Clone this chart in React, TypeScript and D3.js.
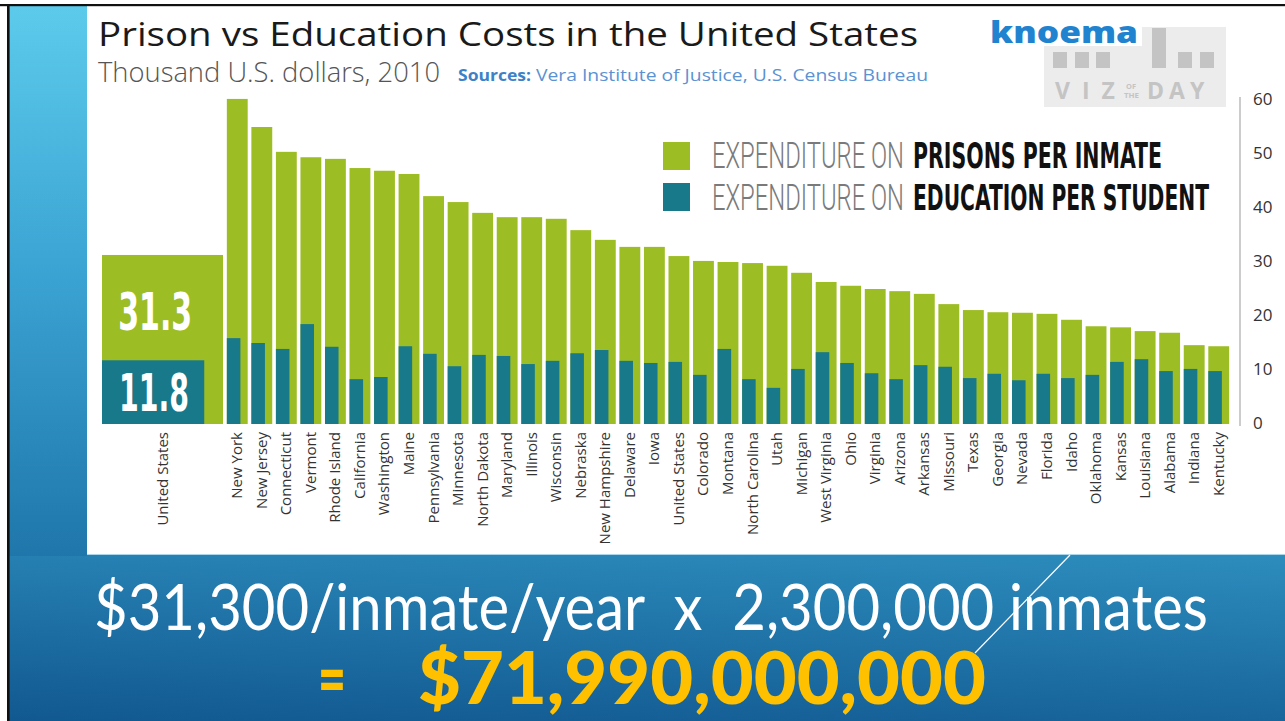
import React from 'react';
import * as d3 from 'd3';

const states = ['New York','New Jersey','Connecticut','Vermont','Rhode Island','California','Washington','Maine','Pennsylvania','Minnesota','North Dakota','Maryland','Illinois','Wisconsin','Nebraska','New Hampshire','Delaware','Iowa','United States','Colorado','Montana','North Carolina','Utah','Michigan','West Virginia','Ohio','Virginia','Arizona','Arkansas','Missouri','Texas','Georgia','Nevada','Florida','Idaho','Oklahoma','Kansas','Louisiana','Alabama','Indiana','Kentucky'];

const prisonCost = [60.2,55.0,50.4,49.4,49.1,47.4,46.9,46.3,42.2,41.1,39.1,38.3,38.3,38.0,35.9,34.1,32.8,32.8,31.1,30.2,30.0,29.8,29.3,28.0,26.3,25.6,25.0,24.6,24.1,22.2,21.1,20.7,20.6,20.4,19.3,18.1,17.9,17.2,16.9,14.6,14.4];

const educationCost = [15.9,15.0,13.9,18.5,14.3,8.3,8.7,14.4,13.0,10.7,12.8,12.6,11.1,11.7,13.1,13.7,11.7,11.3,11.5,9.1,13.9,8.3,6.7,10.2,13.3,11.3,9.4,8.3,10.9,10.6,8.5,9.3,8.1,9.3,8.5,9.1,11.5,12.0,9.8,10.2,9.8];

const usCategory = ['United States'];
const usPrison = [31.3];
const usEducation = [11.8];

const yTicks = [0, 10, 20, 30, 40, 50, 60];

const GREEN = '#9dbd25';
const TEAL = '#18798a';

export default function App() {
  const W = 1285, H = 721;
  const y = d3.scaleLinear().domain([0, 60]).range([424, 100]);
  const x = d3.scaleBand<string>().domain(states).range([225, 1231]).paddingInner(0.15).paddingOuter(0.075);
  const xUS = d3.scaleBand<string>().domain(usCategory).range([102, 223]).padding(0);
  const bw = x.bandwidth();
  const tealW = bw * 0.65;
  const usBw = xUS.bandwidth();

  const labelFont = '"Open Sans", "Noto Sans", sans-serif';
  const condFont = '"DejaVu Sans Condensed", "Liberation Sans Narrow", Roboto, sans-serif';
  const logoGray = '#c4c4c4';

  return (
    <svg width={W} height={H} viewBox={`0 0 ${W} ${H}`} style={{ position: 'absolute', left: 0, top: 0, display: 'block' }}>
      <defs>
        <linearGradient id="strip" x1="0" y1="0" x2="0" y2="1">
          <stop offset="0" stopColor="#5ccbeb" />
          <stop offset="0.5" stopColor="#3aa2d2" />
          <stop offset="1" stopColor="#1f76aa" />
        </linearGradient>
        <linearGradient id="bottom" x1="0.7" y1="-0.1" x2="0.3" y2="1.1">
          <stop offset="0" stopColor="#2d8dbd" />
          <stop offset="1" stopColor="#115890" />
        </linearGradient>
      </defs>
      <rect x={0} y={0} width={W} height={H} fill="#ffffff" />
      {/* slide background */}
      <rect x={9} y={554} width={W - 9} height={H - 554} fill="url(#bottom)" />
      <rect x={9} y={5} width={78} height={551} fill="url(#strip)" />
      <rect x={87} y={6} width={W - 87} height={548} fill="#ffffff" />
      <line x1={87} x2={W} y1={554.5} y2={554.5} stroke="#a9d6ea" strokeWidth={1.2} />
      <rect x={0} y={4} width={W} height={2.2} fill="#111" />
      <rect x={7} y={4} width={2.6} height={H - 4} fill="#111" />

      {/* title */}
      <text x={98} y={46} fontFamily={labelFont} fontSize={32} fill="#1a1a1a" textLength={820} lengthAdjust="spacingAndGlyphs">Prison vs Education Costs in the United States</text>
      <text x={98} y={82} fontFamily={labelFont} fontWeight={300} fontSize={27} fill="#555" textLength={342} lengthAdjust="spacingAndGlyphs">Thousand U.S. dollars, 2010</text>
      <text x={458} y={81} fontFamily={labelFont} fontWeight={700} fontSize={16} fill="#3b82c8" textLength={73} lengthAdjust="spacingAndGlyphs">Sources:</text>
      <text x={536} y={81} fontFamily={labelFont} fontSize={16} fill="#5a92d2" textLength={392} lengthAdjust="spacingAndGlyphs">Vera Institute of Justice, U.S. Census Bureau</text>

      {/* knoema logo */}
      <rect x={1044} y={27} width={182} height={80} fill="#ececec" />
      <rect x={1040} y={18} width={102} height={28} fill="#ffffff" />
      {[1053, 1075, 1096, 1178, 1200].map((bx, i) => (
        <rect key={i} x={bx} y={52} width={14} height={16} fill={logoGray} />
      ))}
      <rect x={1152} y={28} width={14} height={40} fill={logoGray} />
      <text x={990} y={43} fontFamily={labelFont} fontWeight={800} fontSize={30} fill="#1f83cf" textLength={148} lengthAdjust="spacingAndGlyphs">knoema</text>
      <text x={1055} y={99} fontFamily={labelFont} fontWeight={700} fontSize={23} fill={logoGray} letterSpacing={12}>VIZ</text>
      <text x={1126} y={89} fontFamily={labelFont} fontWeight={700} fontSize={7} fill={logoGray} textLength={10} lengthAdjust="spacingAndGlyphs">OF</text>
      <text x={1124} y={98} fontFamily={labelFont} fontWeight={700} fontSize={7} fill={logoGray} textLength={15} lengthAdjust="spacingAndGlyphs">THE</text>
      <text x={1147} y={99} fontFamily={labelFont} fontWeight={700} fontSize={23} fill={logoGray} letterSpacing={5}>DAY</text>

      {/* y axis */}
      <line x1={1240} x2={1240} y1={y(60) - 3} y2={y(0) + 2} stroke="#aaaaaa" strokeWidth={1.2} />
      {yTicks.map(t => (
        <text key={t} x={1253} y={y(t) + 5} fontFamily={labelFont} fontSize={17} fill="#333">{t}</text>
      ))}

      {/* US summary bar */}
      {usCategory.map((c, i) => (
        <g key={c}>
          <rect x={xUS(c)} y={y(usPrison[i])} width={usBw} height={y(0) - y(usPrison[i])} fill={GREEN} />
          <rect x={xUS(c)} y={y(usEducation[i])} width={usBw * 0.845} height={y(0) - y(usEducation[i])} fill={TEAL} />
          <text x={(xUS(c) as number) + usBw * 0.44} y={y(usPrison[i]) + 75} textAnchor="middle" fontFamily={condFont} fontWeight={700} fontSize={51} fill="#fff" textLength={74} lengthAdjust="spacingAndGlyphs">{usPrison[i].toFixed(1)}</text>
          <text x={(xUS(c) as number) + usBw * 0.43} y={y(0) - 13} textAnchor="middle" fontFamily={condFont} fontWeight={700} fontSize={51} fill="#fff" textLength={70} lengthAdjust="spacingAndGlyphs">{usEducation[i].toFixed(1)}</text>
          <text transform={`translate(${(xUS(c) as number) + usBw / 2 + 5},432) rotate(-90)`} textAnchor="end" fontFamily={labelFont} fontSize={15} fill="#333">{c}</text>
        </g>
      ))}

      {/* state bars */}
      {states.map((s, i) => (
        <g key={s + i}>
          <rect x={x(s)} y={y(prisonCost[i])} width={bw} height={y(0) - y(prisonCost[i])} fill={GREEN} />
          <rect x={x(s)} y={y(educationCost[i])} width={tealW} height={y(0) - y(educationCost[i])} fill={TEAL} />
          <text transform={`translate(${(x(s) as number) + bw / 2 + 5},432) rotate(-90)`} textAnchor="end" fontFamily={labelFont} fontSize={15} fill="#333">{s}</text>
        </g>
      ))}

      {/* legend */}
      <rect x={663} y={142} width={27} height={28} fill={GREEN} />
      <rect x={663} y={183} width={27} height={28} fill={TEAL} />
      <text x={712} y={168} fontFamily='Roboto, sans-serif' fontWeight={300} fontSize={37} fill="#7a7a7a" textLength={192} lengthAdjust="spacingAndGlyphs">EXPENDITURE ON</text>
      <text x={913} y={168} fontFamily={condFont} fontWeight={700} fontSize={36} fill="#111" textLength={249} lengthAdjust="spacingAndGlyphs">PRISONS PER INMATE</text>
      <text x={712} y={210} fontFamily='Roboto, sans-serif' fontWeight={300} fontSize={37} fill="#7a7a7a" textLength={192} lengthAdjust="spacingAndGlyphs">EXPENDITURE ON</text>
      <text x={913} y={210} fontFamily={condFont} fontWeight={700} fontSize={36} fill="#111" textLength={296} lengthAdjust="spacingAndGlyphs">EDUCATION PER STUDENT</text>

      {/* bottom statement */}
      <line x1={1070} y1={555} x2={975} y2={653} stroke="#ffffff" strokeWidth={1.2} />
      <text x={94} y={630} fontFamily='Lato, "Open Sans", sans-serif' fontSize={63} fill="#ffffff" textLength={1114} lengthAdjust="spacingAndGlyphs" style={{ whiteSpace: 'pre' }}>{'$31,300/inmate/year  x  2,300,000 inmates'}</text>
      <text x={318} y={704} fontFamily='Lato, "Open Sans", sans-serif' fontWeight={900} fontSize={72} fill="#ffc000" textLength={28} lengthAdjust="spacingAndGlyphs">=</text>
      <text x={418} y={704} fontFamily='Lato, "Open Sans", sans-serif' fontWeight={900} fontSize={72} fill="#ffc000" textLength={568} lengthAdjust="spacingAndGlyphs">$71,990,000,000</text>
    </svg>
  );
}
